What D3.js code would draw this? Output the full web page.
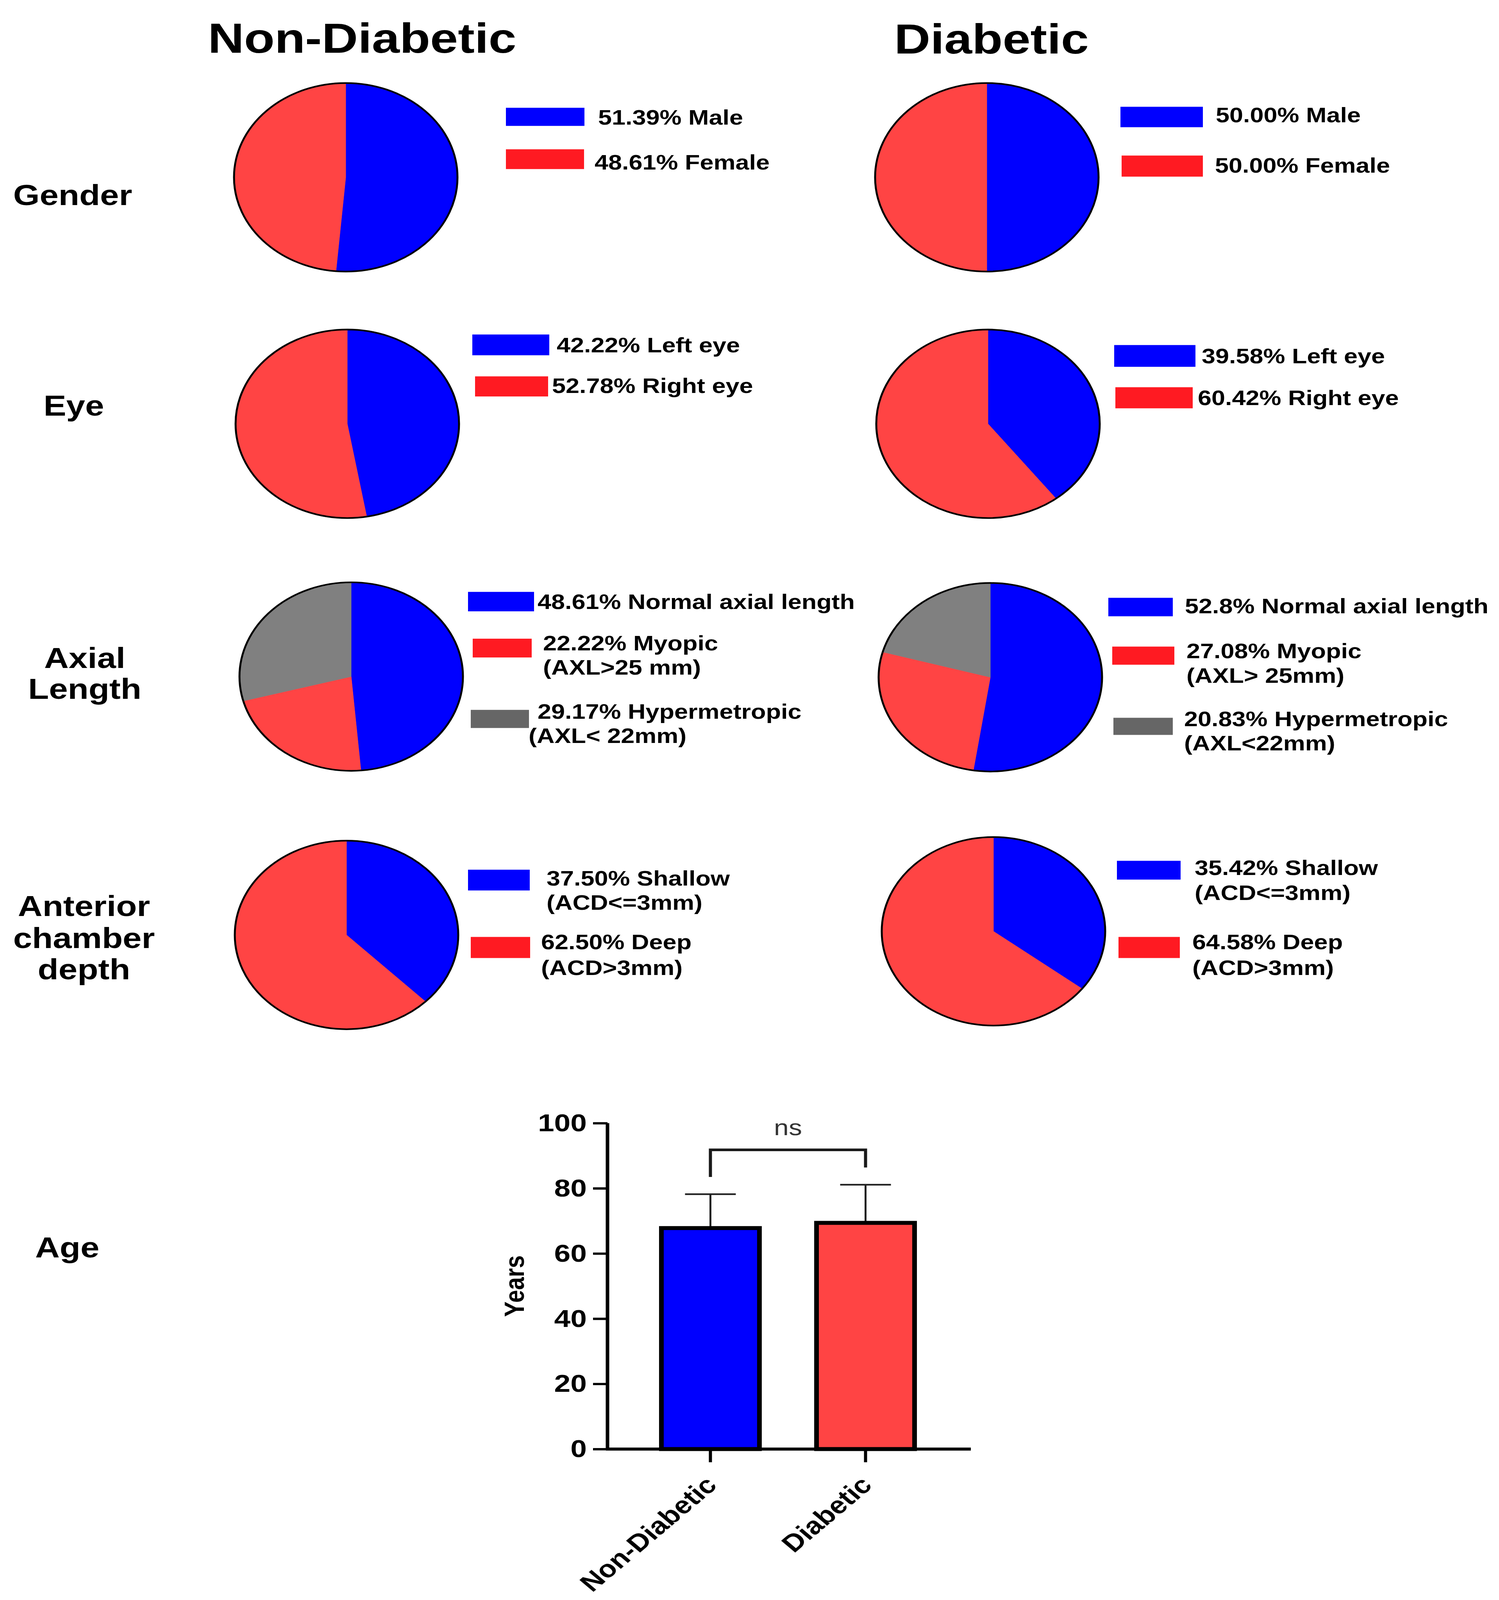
<!DOCTYPE html>
<html>
<head>
<meta charset="utf-8">
<script src="https://cdn.jsdelivr.net/npm/d3@7"></script>
<style>
  html, body { margin: 0; padding: 0; background: #ffffff; overflow: hidden; }
  svg { display: block; }
  text { font-family: "Liberation Sans", Arial, sans-serif; }
</style>
</head>
<body>
<svg id="chart"></svg>
<script>
// ---------------- DATA ----------------
const groups = ["Non-Diabetic", "Diabetic"];
const rowLabels = [["Gender"], ["Eye"], ["Axial", "Length"], ["Anterior", "chamber", "depth"]];
const ageLabel = "Age";

const genderValues = [[51.39, 48.61], [50.00, 50.00]];
const genderLegend = [
  [["51.39% Male"], ["48.61% Female"]],
  [["50.00% Male"], ["50.00% Female"]]
];

const eyeValues = [[47.22, 52.78], [39.58, 60.42]];
const eyeLegend = [
  [["42.22% Left eye"], ["52.78% Right eye"]],
  [["39.58% Left eye"], ["60.42% Right eye"]]
];

const axialValues = [[48.61, 22.22, 29.17], [52.8, 27.08, 20.83]];
const axialLegend = [
  [["48.61% Normal axial length"], ["22.22% Myopic", "(AXL>25 mm)"], ["29.17% Hypermetropic", "(AXL< 22mm)"]],
  [["52.8% Normal axial length"], ["27.08% Myopic", "(AXL> 25mm)"], ["20.83% Hypermetropic", "(AXL<22mm)"]]
];

const acdValues = [[37.50, 62.50], [35.42, 64.58]];
const acdLegend = [
  [["37.50% Shallow", "(ACD<=3mm)"], ["62.50% Deep", "(ACD>3mm)"]],
  [["35.42% Shallow", "(ACD<=3mm)"], ["64.58% Deep", "(ACD>3mm)"]]
];

const ageCategories = ["Non-Diabetic", "Diabetic"];
const ageMean = [67.8, 69.4];
const ageSD = [10.4, 11.7];
const yTicks = [0, 20, 40, 60, 80, 100];
const yAxisTitle = "Years";
const sigLabel = "ns";
const sigBracket = { top: 91.8, leftEnd: 83.5, rightEnd: 86.4 };

// ---------------- LAYOUT / STYLE ----------------
const W = 3837, H = 4855;
const FONT = "'Liberation Sans', Arial, sans-serif";
const pieColors = ["#0000FF", "#FF4444", "#808080"];
const legendColors = ["#0000FF", "#FF1A22", "#666666"];
const pieR = 286;

// the whole 3837x4855 design is mapped onto the visible window
const vw = window.innerWidth || W, vh = window.innerHeight || H;
const svg = d3.select("#chart").attr("width", vw).attr("height", vh)
  .attr("viewBox", `0 0 ${W} ${H}`).attr("preserveAspectRatio", "none");
svg.append("rect").attr("width", W).attr("height", H).attr("fill", "#fff");

// Column titles
const titleLayout = [{ x: 927, y: 160 }, { x: 2538, y: 162 }];
svg.selectAll("text.title").data(groups).join("text")
  .attr("class", "title")
  .attr("x", (d, i) => titleLayout[i].x)
  .attr("y", (d, i) => titleLayout[i].y)
  .attr("text-anchor", "middle")
  .attr("font-size", 128).attr("font-weight", "bold").attr("fill", "#000")
  .text(d => d);

// Row labels
const rowLabelLayout = [
  { x: 186, ys: [622] },
  { x: 189, ys: [1261] },
  { x: 217, ys: [2027, 2121] },
  { x: 215, ys: [2779, 2877, 2972] }
];
rowLabels.forEach((lines, r) => {
  const t = svg.append("text")
    .attr("text-anchor", "middle")
    .attr("font-size", 87).attr("font-weight", "bold").attr("fill", "#000");
  lines.forEach((ln, k) => {
    t.append("tspan").attr("x", rowLabelLayout[r].x).attr("y", rowLabelLayout[r].ys[k]).text(ln);
  });
});
svg.append("text").attr("x", 90).attr("y", 3815)
  .attr("font-size", 87).attr("font-weight", "bold").attr("fill", "#000")
  .text(ageLabel);

// Pie panels
const pieRows = [genderValues, eyeValues, axialValues, acdValues];
const legendRows = [genderLegend, eyeLegend, axialLegend, acdLegend];
const pieCenters = [
  [[885, 538], [2526, 538]],
  [[889, 1286], [2529, 1286]],
  [[899, 2053], [2535, 2055]],
  [[887, 2837], [2543, 2826]]
];
const legendLayout = [
  [
    [{ rect: [1295, 327, 201, 55], lines: [[1531, 378]] },
     { rect: [1295, 453, 200, 60], lines: [[1522, 515]] }],
    [{ rect: [2868, 324, 211, 62], lines: [[3112, 371]] },
     { rect: [2871, 472, 208, 64], lines: [[3110, 524]] }]
  ],
  [
    [{ rect: [1209, 1015, 197, 63], lines: [[1425, 1069]] },
     { rect: [1216, 1142, 187, 61], lines: [[1413, 1192]] }],
    [{ rect: [2852, 1047, 208, 66], lines: [[3076, 1102]] },
     { rect: [2855, 1175, 198, 64], lines: [[3066, 1229]] }]
  ],
  [
    [{ rect: [1198, 1796, 169, 59], lines: [[1376, 1848]] },
     { rect: [1210, 1938, 151, 57], lines: [[1390, 1974], [1390, 2047]] },
     { rect: [1205, 2154, 149, 55], lines: [[1376, 2181], [1353, 2255]] }],
    [{ rect: [2837, 1814, 165, 56], lines: [[3033, 1861]] },
     { rect: [2847, 1962, 159, 55], lines: [[3037, 1997], [3037, 2072]] },
     { rect: [2850, 2178, 152, 52], lines: [[3031, 2203], [3031, 2277]] }]
  ],
  [
    [{ rect: [1198, 2639, 158, 63], lines: [[1399, 2687], [1399, 2761]] },
     { rect: [1205, 2843, 152, 64], lines: [[1385, 2880], [1385, 2958]] }],
    [{ rect: [2859, 2612, 163, 57], lines: [[3058, 2655], [3058, 2731]] },
     { rect: [2863, 2843, 157, 64], lines: [[3052, 2880], [3052, 2958]] }]
  ]
];

const pie = d3.pie().sort(null).value(d => d).startAngle(0).endAngle(2 * Math.PI);
const arc = d3.arc().innerRadius(0).outerRadius(pieR);

pieRows.forEach((rowVals, r) => {
  rowVals.forEach((vals, c) => {
    const [cx, cy] = pieCenters[r][c];
    const g = svg.append("g").attr("transform", `translate(${cx},${cy})`);
    g.selectAll("path.slice").data(pie(vals)).join("path")
      .attr("class", "slice")
      .attr("d", arc)
      .attr("fill", (d, i) => pieColors[i])
      .attr("stroke", (d, i) => pieColors[i])
      .attr("stroke-width", 1);
    g.append("circle").attr("r", pieR).attr("fill", "none")
      .attr("stroke", "#000").attr("stroke-width", 5);

    const items = legendRows[r][c];
    items.forEach((lines, i) => {
      const L = legendLayout[r][c][i];
      svg.append("rect")
        .attr("x", L.rect[0]).attr("y", L.rect[1])
        .attr("width", L.rect[2]).attr("height", L.rect[3])
        .attr("fill", legendColors[i]);
      lines.forEach((ln, k) => {
        svg.append("text")
          .attr("x", L.lines[k][0]).attr("y", L.lines[k][1])
          .attr("font-size", 63).attr("font-weight", "bold").attr("fill", "#000")
          .text(ln);
      });
    });
  });
});

// ---------------- AGE BAR CHART ----------------
const plot = { left: 1555, right: 2485, top: 3408, bottom: 4397 };
const y = d3.scaleLinear().domain([0, 100]).range([plot.bottom, plot.top]);
const x = d3.scaleBand().domain(ageCategories).range([plot.left - 3, plot.right - 3])
  .paddingInner(0.368).paddingOuter(0.355);

const barG = svg.append("g");
const barData = ageCategories.map((c, i) => ({ cat: c, mean: ageMean[i], sd: ageSD[i], i }));

barData.forEach(d => {
  const cx = x(d.cat) + x.bandwidth() / 2;
  barG.append("line").attr("x1", cx).attr("x2", cx)
    .attr("y1", y(d.mean)).attr("y2", y(d.mean + d.sd))
    .attr("stroke", "#222").attr("stroke-width", 5);
  barG.append("line").attr("x1", cx - 65).attr("x2", cx + 65)
    .attr("y1", y(d.mean + d.sd)).attr("y2", y(d.mean + d.sd))
    .attr("stroke", "#222").attr("stroke-width", 5);
});

barG.selectAll("rect.bar").data(barData).join("rect")
  .attr("class", "bar")
  .attr("x", d => x(d.cat))
  .attr("y", d => y(d.mean))
  .attr("width", x.bandwidth())
  .attr("height", d => y(0) - y(d.mean))
  .attr("fill", d => pieColors[d.i])
  .attr("stroke", "#000").attr("stroke-width", 12);

const yAxis = svg.append("g").attr("transform", `translate(${plot.left},0)`)
  .call(d3.axisLeft(y).tickValues(yTicks).tickSize(37).tickSizeOuter(0).tickPadding(16));
yAxis.select(".domain").attr("stroke", "#000").attr("stroke-width", 9)
  .attr("d", `M0,${plot.bottom + 4}V${plot.top}`);
yAxis.selectAll(".tick line").attr("stroke", "#000").attr("stroke-width", 7);
yAxis.selectAll(".tick text").attr("font-family", FONT).attr("font-size", 75)
  .attr("font-weight", "bold").attr("fill", "#000");

const xAxis = svg.append("g").attr("transform", `translate(0,${plot.bottom})`)
  .call(d3.axisBottom(x).tickSize(40).tickSizeOuter(0));
xAxis.select(".domain").attr("stroke", "#000").attr("stroke-width", 9)
  .attr("d", `M${plot.left - 4},0H${plot.right}`);
xAxis.selectAll(".tick line").attr("stroke", "#000").attr("stroke-width", 8);
xAxis.selectAll(".tick text")
  .attr("font-family", FONT).attr("font-size", 74).attr("font-weight", "bold").attr("fill", "#000")
  .attr("text-anchor", "end")
  .attr("dy", null)
  .attr("y", null)
  .attr("transform", "translate(20,114) rotate(-45)");

svg.append("text")
  .attr("transform", `translate(1341,${(plot.top + plot.bottom) / 2})rotate(-90)`)
  .attr("text-anchor", "middle")
  .attr("font-size", 70).attr("font-weight", "bold").attr("fill", "#000")
  .text(yAxisTitle);

const x0 = x(ageCategories[0]) + x.bandwidth() / 2;
const x1 = x(ageCategories[1]) + x.bandwidth() / 2;
svg.append("path")
  .attr("d", `M${x0},${y(sigBracket.leftEnd)}V${y(sigBracket.top)}H${x1}V${y(sigBracket.rightEnd)}`)
  .attr("fill", "none").attr("stroke", "#1a1a1a").attr("stroke-width", 8);
svg.append("text")
  .attr("x", (x0 + x1) / 2).attr("y", 3445)
  .attr("text-anchor", "middle")
  .attr("font-size", 68).attr("fill", "#333")
  .text(sigLabel);
</script>
</body>
</html>
